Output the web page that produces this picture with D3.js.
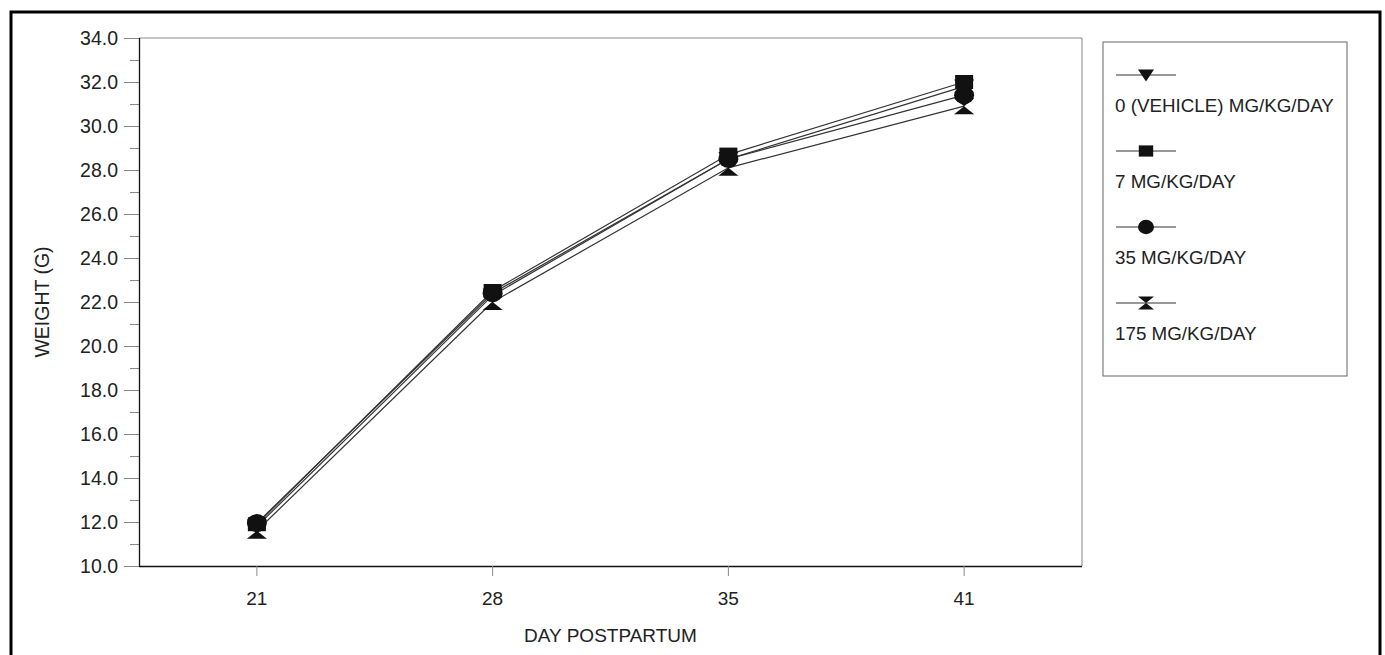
<!DOCTYPE html>
<html lang="en">
<head>
  <meta charset="UTF-8">
  <title>Weight by day postpartum</title>
  <script src="https://d3js.org/d3.v7.min.js"></script>
  <style>
    html, body { margin: 0; padding: 0; background: #fff; overflow: hidden; }
    svg { font-family: "Liberation Sans", Arial, sans-serif; }
  </style>
</head>
<body>
<div id="chart"></div>
<script>
  // data
  const days = ["21", "28", "35", "41"];
  const seriesNames = ["0 (VEHICLE) MG/KG/DAY", "7 MG/KG/DAY", "35 MG/KG/DAY", "175 MG/KG/DAY"];
  const vehicle = [11.8, 22.3, 28.5, 31.8];
  const dose7 = [11.9, 22.5, 28.7, 32.0];
  const dose35 = [11.95, 22.4, 28.5, 31.4];
  const dose175 = [11.6, 22.0, 28.1, 30.9];
  const yTicks = [10, 12, 14, 16, 18, 20, 22, 24, 26, 28, 30, 32, 34];

  const series = [
    {name: seriesNames[0], values: vehicle, shape: "tri"},
    {name: seriesNames[1], values: dose7, shape: "square"},
    {name: seriesNames[2], values: dose35, shape: "circle"},
    {name: seriesNames[3], values: dose175, shape: "hourglass"}
  ];

  const width = 1385, height = 655;
  const m = {left: 139, right: 303, top: 38, bottom: 89};
  const plotW = width - m.left - m.right;
  const plotH = height - m.top - m.bottom;

  const svg = d3.select("#chart").append("svg")
    .attr("width", width).attr("height", height);

  // outer frame
  svg.append("rect")
    .attr("x", 11).attr("y", 12).attr("width", 1369).attr("height", 660)
    .attr("fill", "none").attr("stroke", "#000").attr("stroke-width", 3);

  const x = d3.scalePoint().domain(days).range([0, plotW]).padding(0.5);
  const y = d3.scaleLinear().domain([10, 34]).range([plotH, 0]);

  const g = svg.append("g").attr("transform", `translate(${m.left},${m.top})`);

  // top and right border of plot
  g.append("path")
    .attr("d", `M0,0H${plotW}V${plotH}`)
    .attr("fill", "none").attr("stroke", "#888").attr("stroke-width", 1);

  // y axis: major + minor ticks
  const minor = d3.range(11, 34, 2);
  g.selectAll(".minor").data(minor).enter().append("line")
    .attr("x1", -9).attr("x2", 0)
    .attr("y1", d => y(d) + 0.5).attr("y2", d => y(d) + 0.5)
    .attr("stroke", "#888");
  g.selectAll(".major").data(yTicks).enter().append("line")
    .attr("x1", -15).attr("x2", 0)
    .attr("y1", d => y(d) + 0.5).attr("y2", d => y(d) + 0.5)
    .attr("stroke", "#888");
  g.selectAll(".ylab").data(yTicks).enter().append("text")
    .attr("x", -21).attr("y", d => y(d)).attr("dy", "0.35em")
    .attr("text-anchor", "end").attr("font-size", 19.5).attr("fill", "#222")
    .text(d => d.toFixed(1));
  g.append("line").attr("x1", 0.5).attr("x2", 0.5).attr("y1", 0).attr("y2", plotH)
    .attr("stroke", "#111").attr("stroke-width", 1.3);

  // x axis
  g.append("line").attr("x1", 0).attr("x2", plotW).attr("y1", plotH + 0.5).attr("y2", plotH + 0.5)
    .attr("stroke", "#111").attr("stroke-width", 1.5);
  g.selectAll(".xt").data(days).enter().append("line")
    .attr("x1", d => x(d)).attr("x2", d => x(d))
    .attr("y1", plotH).attr("y2", plotH + 10).attr("stroke", "#888");
  g.selectAll(".xlab").data(days).enter().append("text")
    .attr("x", d => x(d)).attr("y", plotH + 39)
    .attr("text-anchor", "middle").attr("font-size", 19).attr("fill", "#222")
    .text(d => d);

  g.append("text").attr("x", plotW / 2).attr("y", plotH + 76)
    .attr("text-anchor", "middle").attr("font-size", 19).attr("fill", "#222")
    .text("DAY POSTPARTUM");
  g.append("text")
    .attr("transform", `translate(${42 - m.left},${plotH / 2}) rotate(-90)`)
    .attr("dy", "0.35em")
    .attr("text-anchor", "middle").attr("font-size", 19.5).attr("fill", "#222")
    .text("WEIGHT (G)");

  // marker drawing
  function marker(sel, shape) {
    if (shape === "square") {
      sel.append("rect").attr("x", -9).attr("y", -7).attr("width", 18).attr("height", 14);
    } else if (shape === "circle") {
      sel.append("ellipse").attr("rx", 10).attr("ry", 9);
    } else if (shape === "tri") {
      sel.append("path").attr("d", "M-10,-7L10,-7L0,8Z");
    } else {
      sel.append("path").attr("d", "M-10,-8L10,-8L0,0L10,8L-10,8L0,0Z");
    }
  }

  const line = d3.line().x((d, i) => x(days[i])).y(d => y(d));

  g.selectAll(".series").data(series).enter().append("path")
    .attr("d", d => line(d.values))
    .attr("fill", "none").attr("stroke", "#333").attr("stroke-width", 1.2);

  series.forEach(s => {
    s.values.forEach((v, i) => {
      const mk = g.append("g")
        .attr("transform", `translate(${x(days[i])},${y(v)})`)
        .attr("fill", "#111");
      marker(mk, s.shape);
    });
  });

  // legend
  const lg = svg.append("g").attr("transform", "translate(1103,42)");
  lg.append("rect").attr("width", 244).attr("height", 334)
    .attr("fill", "#fff").attr("stroke", "#666").attr("stroke-width", 1);
  series.forEach((s, i) => {
    const yy = 33 + i * 76;
    lg.append("line").attr("x1", 13).attr("x2", 73).attr("y1", yy).attr("y2", yy)
      .attr("stroke", "#333").attr("stroke-width", 1.2);
    const mk = lg.append("g").attr("transform", `translate(43,${yy}) scale(0.8)`).attr("fill", "#111");
    marker(mk, s.shape);
    lg.append("text").attr("x", 12).attr("y", yy + 30).attr("dy", "0.35em")
      .attr("font-size", 18.8).attr("fill", "#222").text(s.name);
  });
</script>
</body>
</html>
